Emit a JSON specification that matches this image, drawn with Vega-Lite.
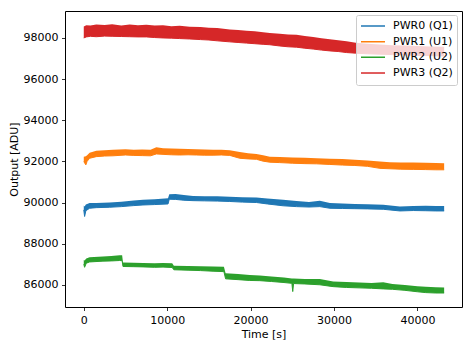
{
  "$schema": "https://vega.github.io/schema/vega-lite/v6.json",
  "width": 397,
  "height": 296,
  "autosize": {"type": "none"},
  "padding": {"left": 65, "top": 11, "right": 11, "bottom": 40},
  "background": "white",
  "config": {
    "font": "DejaVu Sans",
    "view": {"stroke": "black", "strokeWidth": 1},
    "axis": {
      "grid": false,
      "domain": false,
      "tickColor": "black",
      "tickSize": 3.5,
      "tickWidth": 0.8,
      "labelFont": "DejaVu Sans",
      "labelFontSize": 11,
      "labelColor": "black",
      "labelPadding": 3.5,
      "titleFont": "DejaVu Sans",
      "titleFontSize": 11,
      "titleFontWeight": "normal",
      "titleColor": "black"
    },
    "legend": {
      "fillColor": "rgba(255,255,255,0.8)",
      "strokeColor": "#cccccc",
      "cornerRadius": 2,
      "padding": 4,
      "symbolType": "stroke",
      "symbolSize": 576,
      "symbolStrokeWidth": 1.5,
      "labelFont": "DejaVu Sans",
      "labelFontSize": 11,
      "labelColor": "black",
      "labelOffset": 7,
      "clipHeight": 14,
      "rowPadding": 1.67
    }
  },
  "data": {
    "values": [
      {"series": "PWR0 (Q1)", "t": 0, "lo": 89640, "hi": 89850},
      {"series": "PWR0 (Q1)", "t": 100, "lo": 89320, "hi": 89800},
      {"series": "PWR0 (Q1)", "t": 250, "lo": 89600, "hi": 89900},
      {"series": "PWR0 (Q1)", "t": 700, "lo": 89720, "hi": 89970},
      {"series": "PWR0 (Q1)", "t": 1500, "lo": 89750, "hi": 89980},
      {"series": "PWR0 (Q1)", "t": 3100, "lo": 89770, "hi": 90000},
      {"series": "PWR0 (Q1)", "t": 4500, "lo": 89800, "hi": 90040},
      {"series": "PWR0 (Q1)", "t": 6000, "lo": 89850, "hi": 90100},
      {"series": "PWR0 (Q1)", "t": 7100, "lo": 89880, "hi": 90130},
      {"series": "PWR0 (Q1)", "t": 8500, "lo": 89900, "hi": 90160},
      {"series": "PWR0 (Q1)", "t": 10100, "lo": 89930, "hi": 90210},
      {"series": "PWR0 (Q1)", "t": 10250, "lo": 90160, "hi": 90400},
      {"series": "PWR0 (Q1)", "t": 11000, "lo": 90150, "hi": 90410},
      {"series": "PWR0 (Q1)", "t": 12000, "lo": 90110, "hi": 90360},
      {"series": "PWR0 (Q1)", "t": 13100, "lo": 90090, "hi": 90320},
      {"series": "PWR0 (Q1)", "t": 14500, "lo": 90080, "hi": 90300},
      {"series": "PWR0 (Q1)", "t": 16000, "lo": 90070, "hi": 90300},
      {"series": "PWR0 (Q1)", "t": 17500, "lo": 90050, "hi": 90280},
      {"series": "PWR0 (Q1)", "t": 19000, "lo": 90020, "hi": 90260},
      {"series": "PWR0 (Q1)", "t": 20700, "lo": 90000, "hi": 90240},
      {"series": "PWR0 (Q1)", "t": 22000, "lo": 89930, "hi": 90190},
      {"series": "PWR0 (Q1)", "t": 23900, "lo": 89840, "hi": 90130},
      {"series": "PWR0 (Q1)", "t": 25500, "lo": 89800, "hi": 90070},
      {"series": "PWR0 (Q1)", "t": 27000, "lo": 89780, "hi": 90030},
      {"series": "PWR0 (Q1)", "t": 28300, "lo": 89800, "hi": 90080},
      {"series": "PWR0 (Q1)", "t": 29500, "lo": 89720, "hi": 89970},
      {"series": "PWR0 (Q1)", "t": 31000, "lo": 89710, "hi": 89950},
      {"series": "PWR0 (Q1)", "t": 32500, "lo": 89700, "hi": 89930},
      {"series": "PWR0 (Q1)", "t": 34000, "lo": 89690, "hi": 89910},
      {"series": "PWR0 (Q1)", "t": 35900, "lo": 89670, "hi": 89890},
      {"series": "PWR0 (Q1)", "t": 37900, "lo": 89590, "hi": 89800},
      {"series": "PWR0 (Q1)", "t": 39500, "lo": 89610, "hi": 89830},
      {"series": "PWR0 (Q1)", "t": 41000, "lo": 89600, "hi": 89840},
      {"series": "PWR0 (Q1)", "t": 42200, "lo": 89590, "hi": 89830},
      {"series": "PWR0 (Q1)", "t": 43200, "lo": 89590, "hi": 89830},

      {"series": "PWR1 (U1)", "t": 0, "lo": 91990, "hi": 92230},
      {"series": "PWR1 (U1)", "t": 250, "lo": 91830, "hi": 92250},
      {"series": "PWR1 (U1)", "t": 400, "lo": 92000, "hi": 92300},
      {"series": "PWR1 (U1)", "t": 700, "lo": 92150, "hi": 92420},
      {"series": "PWR1 (U1)", "t": 1500, "lo": 92230, "hi": 92520},
      {"series": "PWR1 (U1)", "t": 2500, "lo": 92260, "hi": 92540},
      {"series": "PWR1 (U1)", "t": 3500, "lo": 92270, "hi": 92560},
      {"series": "PWR1 (U1)", "t": 5000, "lo": 92310, "hi": 92590},
      {"series": "PWR1 (U1)", "t": 6000, "lo": 92290, "hi": 92570},
      {"series": "PWR1 (U1)", "t": 7000, "lo": 92280, "hi": 92580},
      {"series": "PWR1 (U1)", "t": 8000, "lo": 92270, "hi": 92560},
      {"series": "PWR1 (U1)", "t": 8700, "lo": 92360, "hi": 92690},
      {"series": "PWR1 (U1)", "t": 9500, "lo": 92340, "hi": 92640},
      {"series": "PWR1 (U1)", "t": 10500, "lo": 92320, "hi": 92620},
      {"series": "PWR1 (U1)", "t": 11500, "lo": 92310, "hi": 92610},
      {"series": "PWR1 (U1)", "t": 12500, "lo": 92320, "hi": 92600},
      {"series": "PWR1 (U1)", "t": 13500, "lo": 92310, "hi": 92590},
      {"series": "PWR1 (U1)", "t": 14500, "lo": 92300, "hi": 92580},
      {"series": "PWR1 (U1)", "t": 15500, "lo": 92300, "hi": 92570},
      {"series": "PWR1 (U1)", "t": 16500, "lo": 92310, "hi": 92560},
      {"series": "PWR1 (U1)", "t": 17500, "lo": 92290, "hi": 92540},
      {"series": "PWR1 (U1)", "t": 18700, "lo": 92150, "hi": 92450},
      {"series": "PWR1 (U1)", "t": 19700, "lo": 92120, "hi": 92400},
      {"series": "PWR1 (U1)", "t": 20700, "lo": 92100, "hi": 92360},
      {"series": "PWR1 (U1)", "t": 21500, "lo": 92010, "hi": 92300},
      {"series": "PWR1 (U1)", "t": 22300, "lo": 91960, "hi": 92230},
      {"series": "PWR1 (U1)", "t": 23500, "lo": 91940, "hi": 92210},
      {"series": "PWR1 (U1)", "t": 25000, "lo": 91910, "hi": 92190},
      {"series": "PWR1 (U1)", "t": 26500, "lo": 91890, "hi": 92170},
      {"series": "PWR1 (U1)", "t": 27900, "lo": 91880, "hi": 92150},
      {"series": "PWR1 (U1)", "t": 29500, "lo": 91850, "hi": 92130},
      {"series": "PWR1 (U1)", "t": 31000, "lo": 91820, "hi": 92110},
      {"series": "PWR1 (U1)", "t": 32500, "lo": 91800, "hi": 92080},
      {"series": "PWR1 (U1)", "t": 34000, "lo": 91760, "hi": 92040},
      {"series": "PWR1 (U1)", "t": 35500, "lo": 91660, "hi": 91990},
      {"series": "PWR1 (U1)", "t": 36700, "lo": 91640, "hi": 91960},
      {"series": "PWR1 (U1)", "t": 38000, "lo": 91620, "hi": 91950},
      {"series": "PWR1 (U1)", "t": 39500, "lo": 91610, "hi": 91940},
      {"series": "PWR1 (U1)", "t": 41000, "lo": 91600, "hi": 91930},
      {"series": "PWR1 (U1)", "t": 42200, "lo": 91590, "hi": 91920},
      {"series": "PWR1 (U1)", "t": 43200, "lo": 91590, "hi": 91910},

      {"series": "PWR2 (U2)", "t": 0, "lo": 87000, "hi": 87210},
      {"series": "PWR2 (U2)", "t": 100, "lo": 86850, "hi": 87180},
      {"series": "PWR2 (U2)", "t": 300, "lo": 87050, "hi": 87280},
      {"series": "PWR2 (U2)", "t": 700, "lo": 87110, "hi": 87340},
      {"series": "PWR2 (U2)", "t": 2300, "lo": 87150, "hi": 87370},
      {"series": "PWR2 (U2)", "t": 3300, "lo": 87160, "hi": 87400},
      {"series": "PWR2 (U2)", "t": 4300, "lo": 87180, "hi": 87440},
      {"series": "PWR2 (U2)", "t": 4600, "lo": 87170, "hi": 87430},
      {"series": "PWR2 (U2)", "t": 4700, "lo": 86890, "hi": 87080},
      {"series": "PWR2 (U2)", "t": 6000, "lo": 86880, "hi": 87070},
      {"series": "PWR2 (U2)", "t": 7100, "lo": 86870, "hi": 87060},
      {"series": "PWR2 (U2)", "t": 8500, "lo": 86850, "hi": 87050},
      {"series": "PWR2 (U2)", "t": 9500, "lo": 86860, "hi": 87060},
      {"series": "PWR2 (U2)", "t": 10600, "lo": 86840, "hi": 87050},
      {"series": "PWR2 (U2)", "t": 10800, "lo": 86730, "hi": 86920},
      {"series": "PWR2 (U2)", "t": 12500, "lo": 86710, "hi": 86910},
      {"series": "PWR2 (U2)", "t": 14000, "lo": 86690, "hi": 86900},
      {"series": "PWR2 (U2)", "t": 15500, "lo": 86660, "hi": 86890},
      {"series": "PWR2 (U2)", "t": 16800, "lo": 86640, "hi": 86880},
      {"series": "PWR2 (U2)", "t": 17000, "lo": 86290, "hi": 86560},
      {"series": "PWR2 (U2)", "t": 18500, "lo": 86250, "hi": 86520},
      {"series": "PWR2 (U2)", "t": 19900, "lo": 86210, "hi": 86480},
      {"series": "PWR2 (U2)", "t": 21100, "lo": 86200, "hi": 86450},
      {"series": "PWR2 (U2)", "t": 22500, "lo": 86160, "hi": 86400},
      {"series": "PWR2 (U2)", "t": 24000, "lo": 86110, "hi": 86360},
      {"series": "PWR2 (U2)", "t": 24950, "lo": 86070, "hi": 86310},
      {"series": "PWR2 (U2)", "t": 25050, "lo": 85670, "hi": 86300},
      {"series": "PWR2 (U2)", "t": 25150, "lo": 86060, "hi": 86300},
      {"series": "PWR2 (U2)", "t": 26500, "lo": 86040, "hi": 86280},
      {"series": "PWR2 (U2)", "t": 28300, "lo": 86000, "hi": 86280},
      {"series": "PWR2 (U2)", "t": 29900, "lo": 85910, "hi": 86160},
      {"series": "PWR2 (U2)", "t": 31500, "lo": 85870, "hi": 86130},
      {"series": "PWR2 (U2)", "t": 33000, "lo": 85850, "hi": 86110},
      {"series": "PWR2 (U2)", "t": 34500, "lo": 85830, "hi": 86090},
      {"series": "PWR2 (U2)", "t": 35900, "lo": 85800, "hi": 86120},
      {"series": "PWR2 (U2)", "t": 37000, "lo": 85780, "hi": 86040},
      {"series": "PWR2 (U2)", "t": 38500, "lo": 85730, "hi": 85990},
      {"series": "PWR2 (U2)", "t": 40000, "lo": 85660, "hi": 85930},
      {"series": "PWR2 (U2)", "t": 41000, "lo": 85620, "hi": 85900},
      {"series": "PWR2 (U2)", "t": 42200, "lo": 85600, "hi": 85880},
      {"series": "PWR2 (U2)", "t": 43200, "lo": 85600, "hi": 85870},

      {"series": "PWR3 (Q2)", "t": 0, "lo": 98000, "hi": 98560},
      {"series": "PWR3 (Q2)", "t": 300, "lo": 98050, "hi": 98620},
      {"series": "PWR3 (Q2)", "t": 800, "lo": 98080, "hi": 98600},
      {"series": "PWR3 (Q2)", "t": 1500, "lo": 98060, "hi": 98650},
      {"series": "PWR3 (Q2)", "t": 2500, "lo": 98090, "hi": 98630},
      {"series": "PWR3 (Q2)", "t": 3400, "lo": 98080, "hi": 98660},
      {"series": "PWR3 (Q2)", "t": 4500, "lo": 98070, "hi": 98610},
      {"series": "PWR3 (Q2)", "t": 5500, "lo": 98060, "hi": 98650},
      {"series": "PWR3 (Q2)", "t": 6500, "lo": 98050, "hi": 98620},
      {"series": "PWR3 (Q2)", "t": 7500, "lo": 98050, "hi": 98640},
      {"series": "PWR3 (Q2)", "t": 8500, "lo": 98020, "hi": 98600},
      {"series": "PWR3 (Q2)", "t": 9500, "lo": 98000, "hi": 98620},
      {"series": "PWR3 (Q2)", "t": 10500, "lo": 97990, "hi": 98570},
      {"series": "PWR3 (Q2)", "t": 11500, "lo": 97970, "hi": 98590},
      {"series": "PWR3 (Q2)", "t": 12700, "lo": 97950, "hi": 98540},
      {"series": "PWR3 (Q2)", "t": 14000, "lo": 97920, "hi": 98530},
      {"series": "PWR3 (Q2)", "t": 15000, "lo": 97900, "hi": 98500},
      {"series": "PWR3 (Q2)", "t": 16000, "lo": 97860, "hi": 98480},
      {"series": "PWR3 (Q2)", "t": 17500, "lo": 97810, "hi": 98410},
      {"series": "PWR3 (Q2)", "t": 18500, "lo": 97780, "hi": 98390},
      {"series": "PWR3 (Q2)", "t": 19500, "lo": 97750, "hi": 98350},
      {"series": "PWR3 (Q2)", "t": 20500, "lo": 97720, "hi": 98320},
      {"series": "PWR3 (Q2)", "t": 21500, "lo": 97690, "hi": 98280},
      {"series": "PWR3 (Q2)", "t": 22300, "lo": 97670, "hi": 98240},
      {"series": "PWR3 (Q2)", "t": 23500, "lo": 97610, "hi": 98210},
      {"series": "PWR3 (Q2)", "t": 24500, "lo": 97570, "hi": 98170},
      {"series": "PWR3 (Q2)", "t": 25500, "lo": 97550, "hi": 98160},
      {"series": "PWR3 (Q2)", "t": 26500, "lo": 97500, "hi": 98100},
      {"series": "PWR3 (Q2)", "t": 27500, "lo": 97460, "hi": 98050},
      {"series": "PWR3 (Q2)", "t": 28500, "lo": 97410, "hi": 97990},
      {"series": "PWR3 (Q2)", "t": 29500, "lo": 97370, "hi": 97940},
      {"series": "PWR3 (Q2)", "t": 30500, "lo": 97340, "hi": 97890},
      {"series": "PWR3 (Q2)", "t": 31500, "lo": 97290, "hi": 97840},
      {"series": "PWR3 (Q2)", "t": 32600, "lo": 97260, "hi": 97770},
      {"series": "PWR3 (Q2)", "t": 34000, "lo": 97230, "hi": 97720},
      {"series": "PWR3 (Q2)", "t": 35500, "lo": 97210, "hi": 97680},
      {"series": "PWR3 (Q2)", "t": 37000, "lo": 97190, "hi": 97650},
      {"series": "PWR3 (Q2)", "t": 38500, "lo": 97170, "hi": 97630},
      {"series": "PWR3 (Q2)", "t": 40000, "lo": 97150, "hi": 97610},
      {"series": "PWR3 (Q2)", "t": 41500, "lo": 97140, "hi": 97590},
      {"series": "PWR3 (Q2)", "t": 43200, "lo": 97120, "hi": 97570}
    ]
  },
  "encoding": {
    "x": {
      "field": "t",
      "type": "quantitative",
      "scale": {"domain": [-2250, 45340], "nice": false, "zero": false},
      "axis": {"title": "Time [s]", "values": [0, 10000, 20000, 30000, 40000], "format": "d", "titlePadding": 3}
    },
    "y": {
      "field": "lo",
      "type": "quantitative",
      "scale": {"domain": [84920, 99310], "nice": false, "zero": false},
      "axis": {"title": "Output [ADU]", "values": [86000, 88000, 90000, 92000, 94000, 96000, 98000], "format": "d", "titlePadding": 4}
    },
    "color": {
      "field": "series",
      "type": "nominal",
      "scale": {"domain": ["PWR0 (Q1)", "PWR1 (U1)", "PWR2 (U2)", "PWR3 (Q2)"], "range": ["#1f77b4", "#ff7f0e", "#2ca02c", "#d62728"]},
      "legend": {"title": null, "orient": "none", "legendX": 291, "legendY": 4}
    }
  },
  "layer": [
    {
      "mark": {"type": "area", "opacity": 1},
      "encoding": {
        "y2": {"field": "hi"}
      }
    },
    {
      "mark": {"type": "line", "strokeWidth": 1}
    }
  ]
}
